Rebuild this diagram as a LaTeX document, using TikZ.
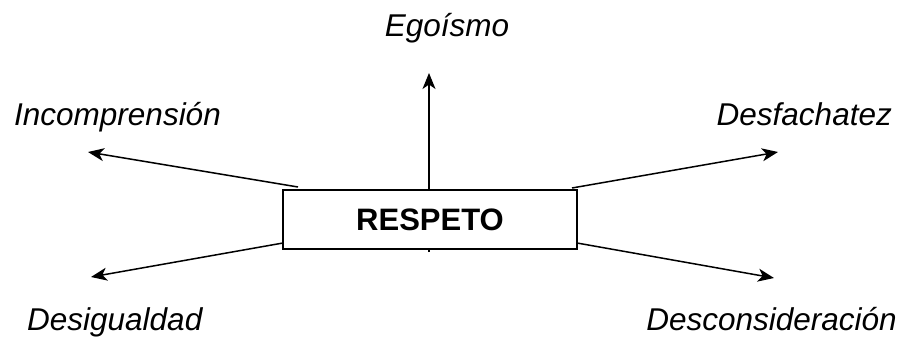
\documentclass[tikz,border=0pt]{standalone}
\usepackage{fontspec}
\setmainfont{Liberation Sans}
\usetikzlibrary{arrows.meta}
\begin{document}
\begin{tikzpicture}[x=1pt,y=-1pt,
  lab/.style={font=\fontsize{31.5}{37}\selectfont\itshape, inner sep=0pt},
  conn/.style={line width=1.5pt, -{Stealth[length=16pt,width=13pt,inset=4.5pt]}},
  box/.style={draw, line width=1.5pt, fill=white, minimum width=294pt, minimum height=59pt, inner sep=0pt,
    font=\fontsize{31}{37}\selectfont\bfseries}]
\useasboundingbox (0,0) rectangle (908,340);
% coordinates
\coordinate (vstart) at (429,252);
\coordinate (tUp) at (429,73);
\coordinate (sUL) at (298,187);
\coordinate (tUL) at (88,152);
\coordinate (sLL) at (283,243);
\coordinate (tLL) at (91,277);
\coordinate (sUR) at (572,188);
\coordinate (tUR) at (778,152);
\coordinate (sLR) at (577,243);
\coordinate (tLR) at (774,278);
\draw[conn] (vstart) -- (tUp);
\node[box] (r) at (430,219.5) {RESPETO};
\draw[conn] (sUL) -- (tUL);
\draw[conn] (sLL) -- (tLL);
\draw[conn] (sUR) -- (tUR);
\draw[conn] (sLR) -- (tLR);
% labels
\node[lab, anchor=base] (ego) at (447,36) {Egoísmo};
\node[lab, anchor=base west] (inc) at (14,125) {Incomprensión};
\node[lab, anchor=base east] (des) at (892,125) {Desfachatez};
\node[lab, anchor=base west] (dig) at (27,330) {Desigualdad};
\node[lab, anchor=base east] (dcs) at (897,330) {Desconsideración};
\end{tikzpicture}
\end{document}
